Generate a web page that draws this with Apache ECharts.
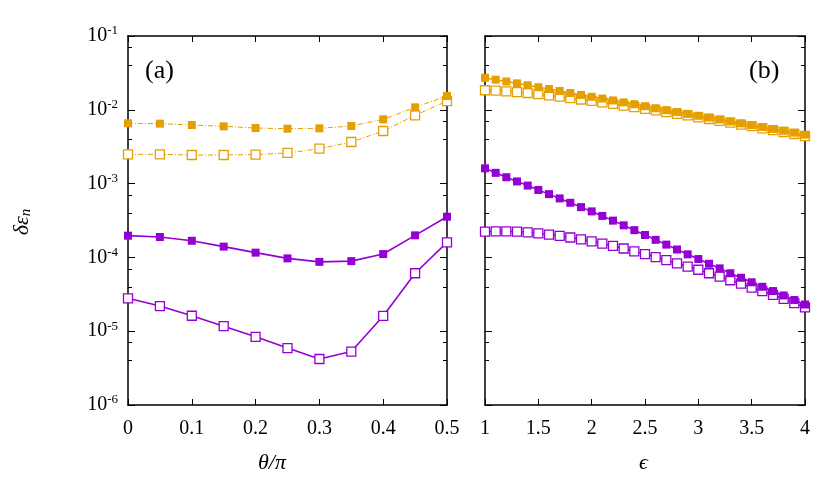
<!DOCTYPE html>
<html><head><meta charset="utf-8">
<script src="https://cdn.jsdelivr.net/npm/echarts@6/dist/echarts.min.js"></script>
<style>html,body{margin:0;background:#fff}#c{width:822px;height:501px}</style>
</head><body><div id="c"></div>
<script>
const thetaA = [0,0.05,0.1,0.15,0.2,0.25,0.3,0.35,0.4,0.45,0.5];
const orangeFilledA = [6.56e-3,6.49e-3,6.22e-3,5.97e-3,5.66e-3,5.55e-3,5.61e-3,6.03e-3,7.43e-3,1.08e-2,1.54e-2];
const orangeOpenA = [2.49e-3,2.49e-3,2.44e-3,2.44e-3,2.47e-3,2.6e-3,2.97e-3,3.66e-3,5.16e-3,8.41e-3,1.31e-2];
const purpleFilledA = [1.97e-4,1.89e-4,1.68e-4,1.40e-4,1.16e-4,9.7e-5,8.7e-5,8.9e-5,1.11e-4,1.99e-4,3.56e-4];
const purpleOpenA = [2.79e-5,2.19e-5,1.62e-5,1.17e-5,8.4e-6,5.9e-6,4.2e-6,5.3e-6,1.61e-5,6.1e-5,1.6e-4];
const epsB = [1,1.1,1.2,1.3,1.4,1.5,1.6,1.7,1.8,1.9,2,2.1,2.2,2.3,2.4,2.5,2.6,2.7,2.8,2.9,3,3.1,3.2,3.3,3.4,3.5,3.6,3.7,3.8,3.9,4];
const orangeFilledB = [27.2,25.6,24.2,22.8,21.5,20.2,19.1,18.0,16.9,15.9,15.0,14.2,13.4,12.6,11.9,11.2,10.5,9.9,9.35,8.8,8.3,7.85,7.4,6.95,6.55,6.2,5.85,5.5,5.2,4.9,4.6].map(v=>v*1e-3);
const orangeOpenB = [18.4,18.2,17.8,17.4,16.9,16.3,15.7,15.1,14.4,13.8,13.2,12.6,12.0,11.4,10.9,10.3,9.8,9.3,8.8,8.4,7.9,7.5,7.1,6.7,6.3,6.0,5.6,5.3,5.0,4.7,4.4].map(v=>v*1e-3);
const purpleFilledB = [161,140,122,107,94,82,72,63,55,48,42,36.5,31.5,27.2,23.4,20.1,17.3,14.9,12.8,11.0,9.5,8.2,7.1,6.1,5.3,4.6,4.0,3.5,3.05,2.65,2.3].map(v=>v*1e-5);
const purpleOpenB = [22.3,22.5,22.5,22.3,21.8,21.2,20.4,19.6,18.6,17.6,16.5,15.4,14.3,13.2,12.1,11.1,10.1,9.2,8.3,7.5,6.8,6.1,5.5,4.9,4.4,3.9,3.5,3.1,2.75,2.4,2.1].map(v=>v*1e-5);

const ORANGE='#e69f00', PURPLE='#9400d3';
const font='Liberation Serif';
const chart = echarts.init(document.getElementById('c'));
const pair=(xs,ys)=>xs.map((x,i)=>[x,ys[i]]);
function ser(xi,data,color,filled,dash){
  return {type:'line',xAxisIndex:xi,yAxisIndex:xi,data,symbol:'rect',symbolSize:filled?8:9,
    showSymbol:true,animation:false,
    lineStyle:{color,width:dash?1:1.6,type:dash?[5,2,1,2]:'solid'},
    itemStyle:filled?{color,borderWidth:0}:{color:'#fff',borderColor:color,borderWidth:1.3},
    z:filled?3:2};
}
const ylab = v=>{const e=Math.round(Math.log10(v));return '{b|10}{s|'+e+'}';};
const rich={b:{fontFamily:font,fontSize:20,color:'#000'},s:{fontFamily:font,fontSize:13,color:'#000',verticalAlign:'top',padding:[0,0,10,0]}};
function xa(gi,min,max,interval,top){
  return {type:'value',gridIndex:gi,min,max,interval,position:top?'top':'bottom',
    axisLine:{show:true,onZero:false,lineStyle:{color:'#000',width:1.5}},
    axisTick:{show:true,inside:true,length:6,lineStyle:{color:'#000'}},
    axisLabel:{show:!top,fontFamily:font,fontSize:20,color:'#000',margin:14},
    splitLine:{show:false}};
}
function ya(gi,right,labels){
  return {type:'log',logBase:10,gridIndex:gi,min:1e-6,max:1e-1,position:right?'right':'left',
    axisLine:{show:true,onZero:false,lineStyle:{color:'#000',width:1.5}},
    axisTick:{show:true,inside:true,length:7,lineStyle:{color:'#000'}},
    minorTick:{show:true,splitNumber:3,length:4,lineStyle:{color:'#000'}},
    axisLabel:{show:labels,formatter:ylab,rich,margin:10},
    splitLine:{show:false}};
}
chart.setOption({
  backgroundColor:'#fff',animation:false,
  grid:[{left:128,width:319,top:36,height:369},{left:485,width:320,top:36,height:369},
        {left:128,width:319,top:36,height:369},{left:485,width:320,top:36,height:369}],
  xAxis:[xa(0,0,0.5,0.1,false),xa(1,1,4,0.5,false),xa(2,0,0.5,0.1,true),xa(3,1,4,0.5,true)],
  yAxis:[ya(0,false,true),ya(1,false,false),ya(2,true,false),ya(3,true,false)],
  series:[
    ser(0,pair(thetaA,orangeOpenA),ORANGE,false,true),
    ser(0,pair(thetaA,orangeFilledA),ORANGE,true,true),
    ser(0,pair(thetaA,purpleOpenA),PURPLE,false,false),
    ser(0,pair(thetaA,purpleFilledA),PURPLE,true,false),
    ser(1,pair(epsB,orangeOpenB),ORANGE,false,false),
    ser(1,pair(epsB,orangeFilledB),ORANGE,true,false),
    ser(1,pair(epsB,purpleOpenB),PURPLE,false,false),
    ser(1,pair(epsB,purpleFilledB),PURPLE,true,false)
  ],
  graphic:[
    {type:'text',left:145,top:58,style:{text:'(a)',font:'26px "Liberation Serif"',fill:'#000'}},
    {type:'text',left:749,top:58,style:{text:'(b)',font:'26px "Liberation Serif"',fill:'#000'}},
    {type:'text',left:258,top:452,style:{text:'θ/π',font:'italic 22px "Liberation Serif"',fill:'#000'}},
    {type:'text',left:639,top:452,style:{text:'ϵ',font:'italic 22px "Liberation Serif"',fill:'#000'}},
    {type:'text',x:22,y:222,rotation:Math.PI/2,style:{text:'{a|δε}{s|n}',align:'center',verticalAlign:'middle',
      rich:{a:{fontFamily:font,fontStyle:'italic',fontSize:22,fill:'#000',color:'#000'},
            s:{fontFamily:font,fontStyle:'italic',fontSize:15,color:'#000',verticalAlign:'bottom',padding:[8,0,0,0]}}}}
  ]
});
</script></body></html>
